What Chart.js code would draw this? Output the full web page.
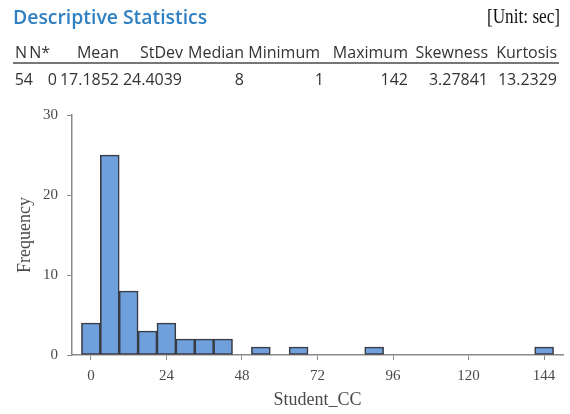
<!DOCTYPE html>
<html>
<head>
<meta charset="utf-8">
<script src="https://cdn.jsdelivr.net/npm/chart.js@4/dist/chart.umd.min.js"></script>
<style>
    html, body {
        margin: 0;
        padding: 0;
        background: #ffffff;
    }
    #page {
        position: relative;
        width: 570px;
        height: 414px;
        overflow: hidden;
    }
    #chart-box {
        position: absolute;
        left: 0;
        top: 0;
        width: 570px;
        height: 414px;
    }
    .title {
        position: absolute;
        left: 13px;
        top: 3px;
        font-family: "Open Sans", sans-serif;
        font-weight: 600;
        font-size: 19.4px;
        color: #2f80c3;
        white-space: nowrap;
    }
    .unit {
        position: absolute;
        right: 10px;
        top: 5px;
        font-family: "Liberation Serif", "Times New Roman", serif;
        font-size: 20.5px;
        color: #111;
        white-space: nowrap;
        transform: scaleX(0.84);
        transform-origin: right center;
    }
    .cell {
        position: absolute;
        font-family: "Open Sans", sans-serif;
        font-size: 16px;
        color: #333;
        white-space: nowrap;
        text-align: right;
    }
    .rule {
        position: absolute;
        left: 13px;
        top: 62px;
        width: 546px;
        height: 2px;
        background: #777;
    }
</style>
</head>
<body>
<div id="page">
    <div id="chart-box"><canvas id="hist" width="570" height="414"></canvas></div>
    <div class="title">Descriptive Statistics</div>
    <div class="unit">[Unit: sec]</div>
    <div id="stats"></div>
    <div class="rule"></div>
</div>
<script>
/* Tabla de estadísticos */
const statNames = ['N', 'N*', 'Mean', 'StDev', 'Median', 'Minimum', 'Maximum', 'Skewness', 'Kurtosis'];
const statValues = ['54', '0', '17.1852', '24.4039', '8', '1', '142', '3.27841', '13.2329'];

/* Histograma: centros de clase (ancho 6) y frecuencias */
const binCenters = [0, 6, 12, 18, 24, 30, 36, 42, 48, 54, 60, 66, 72, 78, 84, 90, 96, 102, 108, 114, 120, 126, 132, 138, 144];
const frequencies = [4, 25, 8, 3, 4, 2, 2, 2, 0, 1, 0, 1, 0, 0, 0, 1, 0, 0, 0, 0, 0, 0, 0, 0, 1];
const xTicks = [0, 24, 48, 72, 96, 120, 144];
const yTicks = [0, 10, 20, 30];

// bordes derechos de cada columna (cabecera / valores)
const headRight = [27, 50, 119, 183, 244, 320, 408, 488, 557];
const valueRight = [33, 57, 119, 182, 244, 324, 408, 488, 557];

const stats = document.getElementById('stats');

statNames.forEach((name, i) => {
    const head = document.createElement('div');
    head.className = 'cell';
    head.textContent = name;
    head.style.right = (570 - headRight[i]) + 'px';
    head.style.top = '41px';
    stats.appendChild(head);

    const val = document.createElement('div');
    val.className = 'cell';
    val.textContent = statValues[i];
    val.style.right = (570 - valueRight[i]) + 'px';
    val.style.top = '68px';
    stats.appendChild(val);
});

const axisGray = '#8a8a8a';
const textGray = '#4a4a4a';
const serif = '"Liberation Serif", "Times New Roman", serif';

const points = [];
binCenters.forEach((c, i) => {
    if (frequencies[i] > 0) {
        points.push({ x: c, y: frequencies[i] });
    }
});

new Chart(document.getElementById('hist'), {
    type: 'bar',
    data: {
        datasets: [
            {
                data: points,
                backgroundColor: '#6fa0dc',
                borderColor: '#383b44',
                borderWidth: 1.6,
                borderSkipped: false,
                barPercentage: 1,
                categoryPercentage: 1
            }
        ]
    },
    options: {
        responsive: false,
        animation: false,
        layout: {
            padding: { top: 115, right: 7, left: 0, bottom: 0 }
        },
        plugins: {
            legend: { display: false },
            tooltip: { enabled: false }
        },
        scales: {
            x: {
                type: 'linear',
                min: -6,
                max: 150,
                offset: false,
                afterBuildTicks: (scale) => {
                    scale.ticks = xTicks.map((v) => ({ value: v }));
                },
                afterFit: (scale) => {
                    scale.height = 59;
                },
                grid: {
                    offset: false,
                    drawOnChartArea: false,
                    drawTicks: true,
                    tickLength: 5,
                    tickColor: axisGray
                },
                border: { display: true, color: axisGray, width: 1.5 },
                ticks: {
                    padding: 7,
                    maxRotation: 0,
                    color: textGray,
                    font: { family: serif, size: 15 }
                },
                title: {
                    display: true,
                    text: 'Student_CC',
                    color: textGray,
                    font: { family: serif, size: 18 },
                    padding: { top: 3, bottom: 3 }
                }
            },
            y: {
                min: 0,
                max: 30,
                afterBuildTicks: (scale) => {
                    scale.ticks = yTicks.map((v) => ({ value: v }));
                },
                afterFit: (scale) => {
                    scale.width = 72;
                },
                grid: {
                    drawOnChartArea: false,
                    drawTicks: true,
                    tickLength: 5,
                    tickColor: axisGray
                },
                border: { display: true, color: axisGray, width: 1.5 },
                ticks: {
                    padding: 9,
                    color: textGray,
                    font: { family: serif, size: 15 }
                },
                title: {
                    display: true,
                    text: 'Frequency',
                    color: textGray,
                    font: { family: serif, size: 18 },
                    padding: { top: 14, bottom: 14 }
                }
            }
        }
    }
});
</script>
</body>
</html>
